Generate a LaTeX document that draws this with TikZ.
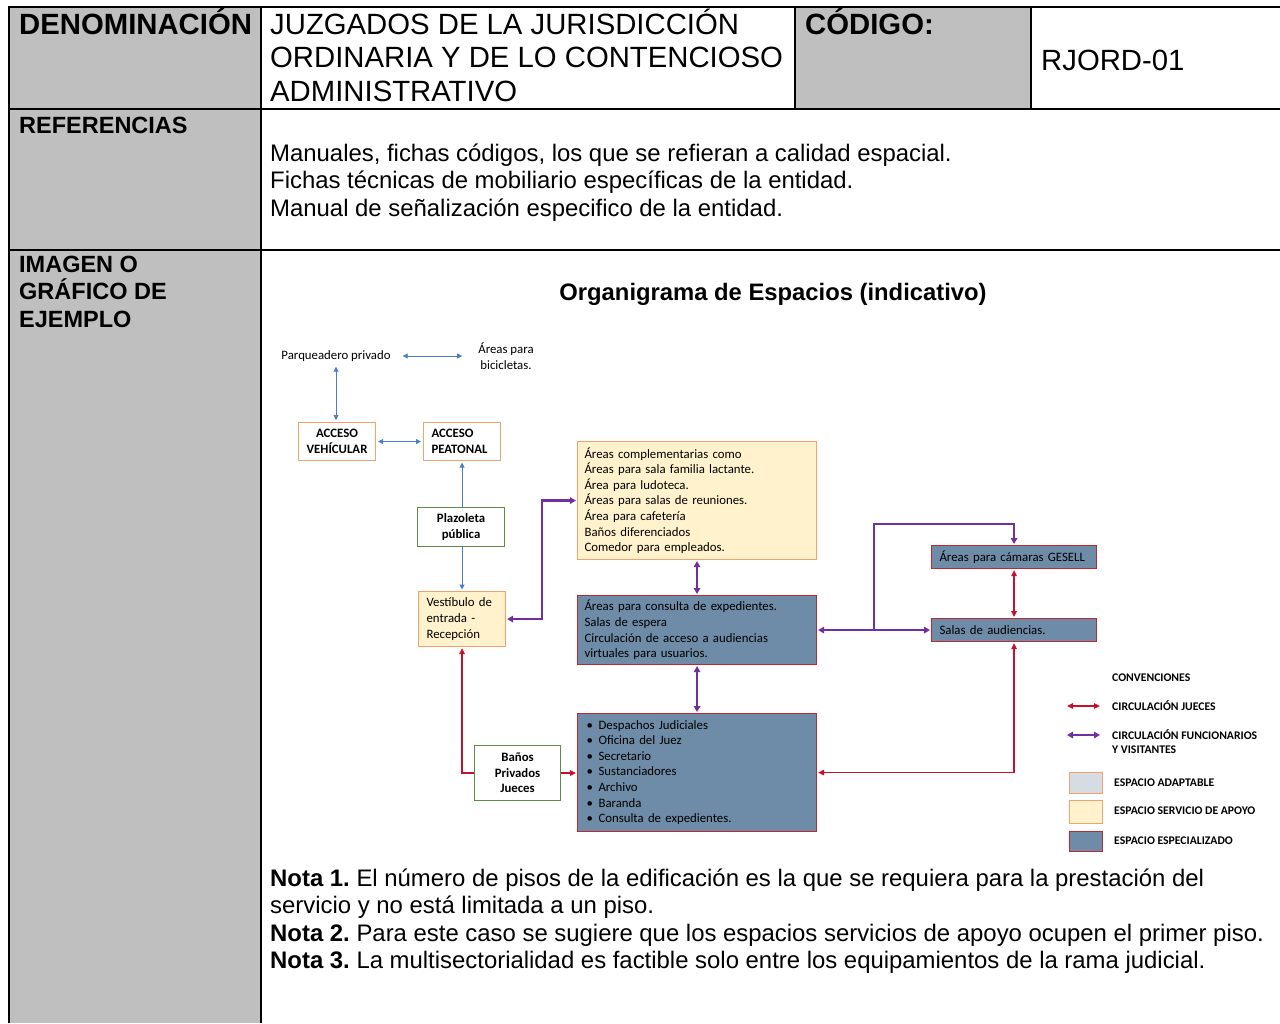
\documentclass[tikz,border=0pt]{standalone}
\usepackage{fontspec}
\setmainfont{Liberation Sans}
\newfontfamily\carl{Carlito}
\usetikzlibrary{arrows.meta,calc}
\frenchspacing
\definecolor{cellgray}{HTML}{BFBFBF}
\definecolor{yel}{HTML}{FFF2CC}
\definecolor{steel}{HTML}{6E8BA7}
\definecolor{adapt}{HTML}{D6DCE4}
\definecolor{orangeb}{HTML}{F2A36B}
\definecolor{redb}{HTML}{C0282D}
\definecolor{greenb}{HTML}{5F8B45}
\definecolor{bluea}{HTML}{4A7DCB}
\definecolor{purpa}{HTML}{7030A0}
\definecolor{reda}{HTML}{C8102E}
\begin{document}
\frenchspacing
\begin{tikzpicture}[x=1pt,y=-1pt,
  tline/.style={line width=2pt, black},
  hdr/.style={font=\fontsize{29.3}{33}\selectfont, inner sep=0pt, anchor=base west},
  hdrb/.style={font=\fontsize{29.3}{33}\selectfont\bfseries, inner sep=0pt, anchor=base west},
  body/.style={font=\fontsize{23.9}{27.5}\selectfont, inner sep=0pt, anchor=base west},
  bodyb/.style={font=\fontsize{23.5}{27.5}\selectfont\bfseries, inner sep=0pt, anchor=base west},
  dfont/.style={font=\carl\fontsize{12.8}{15.6}\selectfont},
  dbold/.style={font=\carl\bfseries\fontsize{12.8}{15.6}\selectfont},
  boxbase/.style={draw, line width=1.1pt, inner ysep=0pt, anchor=north west},
  apoyo/.style={boxbase, draw=orangeb, fill=yel},
  espec/.style={boxbase, draw=redb, fill=steel},
  acceso/.style={boxbase, draw=orangeb, fill=white},
  verde/.style={boxbase, draw=greenb, fill=white},
  legtxt/.style={font=\carl\bfseries\fontsize{11.7}{14}\selectfont, inner sep=0pt, anchor=west, align=left},
  bluearr/.style={draw=bluea, line width=0.9pt, >={Triangle[length=5pt,width=5pt]}},
  redarr/.style={draw=reda, line width=1.5pt, >={Triangle[length=6pt,width=5.5pt]}},
  purarr/.style={draw=purpa, line width=2.5pt, >={Triangle[length=6pt,width=6.5pt]}}
]
\useasboundingbox (0,0) rectangle (1280,1023);
% ---- table ----
\fill[cellgray] (10,8) rectangle (261,1023);
\fill[cellgray] (795,8) rectangle (1031,109);
\draw[tline] (9,1023) -- (9,7) -- (1280,7);
\draw[tline] (261,7) -- (261,1023);
\draw[tline] (795,7) -- (795,109);
\draw[tline] (1031,7) -- (1031,109);
\draw[tline] (9,109) -- (1280,109);
\draw[tline] (9,250) -- (1280,250);
% header texts
\node[hdrb] (den) at (19,34) {DENOMINACIÓN};
\node[hdr] (t1) at (270,34) {JUZGADOS DE LA JURISDICCIÓN};
\node[hdr] (t2) at (270,67.5) {ORDINARIA Y DE LO CONTENCIOSO};
\node[hdr] (t3) at (270,101) {ADMINISTRATIVO};
\node[hdrb] (cod) at (805,34) {CÓDIGO:};
\node[hdr] (codv) at (1041,70.5) {RJORD-01};
\node[bodyb] (ref) at (19,133) {REFERENCIAS};
\node[body] (r1) at (270,161) {Manuales, fichas códigos, los que se refieran a calidad espacial.};
\node[body] (r2) at (270,188.5) {Fichas técnicas de mobiliario específicas de la entidad.};
\node[body] (r3) at (270,216) {Manual de señalización especifico de la entidad.};
\node[bodyb] (im1) at (19,272) {IMAGEN O};
\node[bodyb] (im2) at (19,299.5) {GRÁFICO DE};
\node[bodyb] (im3) at (19,327) {EJEMPLO};
\node[font=\fontsize{23.8}{27}\selectfont\bfseries, inner sep=0pt, anchor=base] (title) at (773,300) {Organigrama de Espacios (indicativo)};
% notes
\node[body] (n1) at (270,886) {\textbf{Nota 1.} El número de pisos de la edificación es la que se requiera para la prestación del};
\node[body] (n1b) at (270,913.5) {servicio y no está limitada a un piso.};
\node[body] (n2) at (270,941) {\textbf{Nota 2.} Para este caso se sugiere que los espacios servicios de apoyo ocupen el primer piso.};
\node[body] (n3) at (270,968.5) {\textbf{Nota 3.} La multisectorialidad es factible solo entre los equipamientos de la rama judicial.};
% ---- diagram ----
\node[dfont, inner sep=3pt] (parq) at (336,356) {Parqueadero privado};
\node[dfont, inner sep=3pt, align=center] (bici) at (506,356) {Áreas para\\bicicletas.};
\node[acceso, dbold, minimum width=77pt, minimum height=38pt, inner xsep=0pt, align=center] (vehic) at (298,422) {ACCESO\\VEHÍCULAR};
\node[acceso, dbold, minimum width=77pt, minimum height=38pt, inner xsep=8pt, text width=61pt, align=left] (peat) at (423,422) {ACCESO\\PEATONAL};
\node[verde, dbold, minimum width=87pt, minimum height=39pt, inner xsep=0pt, align=center] (plaz) at (417,507) {Plazoleta\\pública};
\node[apoyo, dfont, minimum width=87pt, minimum height=55pt, inner xsep=8pt, text width=71pt, align=left] (vest) at (418,591) {Vestíbulo de\\entrada -\\Recepción};
\node[apoyo, dfont, minimum width=239pt, minimum height=118pt, inner xsep=7pt, text width=225pt, align=left] (compl) at (577,441) {Áreas complementarias como\\Áreas para sala familia lactante.\\Área para ludoteca.\\Áreas para salas de reuniones.\\Área para cafetería\\Baños diferenciados\\Comedor para empleados.};
\node[espec, dfont, minimum width=239pt, minimum height=69pt, inner xsep=7pt, text width=225pt, align=left] (cons) at (577,595) {Áreas para consulta de expedientes.\\Salas de espera\\Circulación de acceso a audiencias\\virtuales para usuarios.};
\node[espec, dfont, minimum width=239pt, minimum height=118pt, inner xsep=9pt, text width=221pt, align=left] (desp) at (577,713) {\makebox[12pt][l]{\textbullet}Despachos Judiciales\\\makebox[12pt][l]{\textbullet}Oficina del Juez\\\makebox[12pt][l]{\textbullet}Secretario\\\makebox[12pt][l]{\textbullet}Sustanciadores\\\makebox[12pt][l]{\textbullet}Archivo\\\makebox[12pt][l]{\textbullet}Baranda\\\makebox[12pt][l]{\textbullet}Consulta de expedientes.};
\node[verde, dbold, minimum width=86pt, minimum height=55pt, inner xsep=0pt, align=center] (banos) at (474,745) {Baños\\Privados\\Jueces};
\node[espec, dfont, minimum width=165pt, minimum height=23pt, inner xsep=8pt, text width=149pt, align=left] (gesell) at (931,545) {Áreas para cámaras GESELL};
\node[espec, dfont, minimum width=165pt, minimum height=23pt, inner xsep=8pt, text width=149pt, align=left] (salas) at (931,618) {Salas de audiencias.};
% blue connectors
\draw[bluearr, <->, shorten <=9pt, shorten >=13pt] (parq.east) -- (bici.west |- parq.east);
\draw[bluearr, <->, shorten <=2pt, shorten >=2pt] (parq.south) -- (parq.south |- vehic.north);
\draw[bluearr, <->, shorten <=2pt, shorten >=2pt] (vehic.east) -- (peat.west);
\draw[bluearr, ->, shorten >=1.5pt] (peat.south |- plaz.north) -- (peat.south);
\draw[bluearr, ->, shorten >=1.5pt] (vest.north |- plaz.south) -- (vest.north);
% purple connectors
\draw[purarr, <->, shorten <=1pt, shorten >=1pt] (vest.east) -- ++(36,0) |- (compl.west);
\draw[purarr, <->, shorten <=1pt, shorten >=1pt] (compl.south) -- (compl.south |- cons.north);
\draw[purarr, <->, shorten <=1pt, shorten >=1pt] (cons.south) -- (cons.south |- desp.north);
\draw[purarr, <->, shorten <=1pt, shorten >=1pt] (cons.east) -- (salas.west);
\coordinate (br) at (874,629.5);
\draw[purarr, ->, shorten >=1pt] (br) -- (874,524) -| (gesell.north);
% red connectors
\draw[redarr, ->, shorten >=1pt] (banos.east) -- (banos.east -| desp.west);
\draw[redarr, ->, shorten >=1pt] (banos.west) -| (vest.south);
\draw[redarr, <->, shorten <=1pt, shorten >=1pt] (gesell.south) -- (salas.north);
\draw[redarr, <->, shorten <=1pt, shorten >=1pt] (desp.east) -| (salas.south);
% legend
\node[legtxt] (conv) at (1112,678) {CONVENCIONES};
\coordinate (lj1) at (1067,706);
\coordinate (lj2) at (1100,706);
\draw[redarr, <->] (lj1) -- (lj2);
\node[legtxt] (ljt) at (1112,706) {CIRCULACIÓN JUECES};
\coordinate (lp1) at (1067,735);
\coordinate (lp2) at (1100,735);
\draw[purarr, line width=2pt, <->] (lp1) -- (lp2);
\node[legtxt] (lpt) at (1112,742) {CIRCULACIÓN FUNCIONARIOS\\Y VISITANTES};
\node[boxbase, draw=orangeb, fill=adapt, minimum width=33pt, minimum height=21pt] (sw1) at (1069,772) {};
\node[legtxt] (sw1t) at (1114,783) {ESPACIO ADAPTABLE};
\node[apoyo, minimum width=33pt, minimum height=23pt] (sw2) at (1069,800) {};
\node[legtxt] (sw2t) at (1114,811) {ESPACIO SERVICIO DE APOYO};
\node[espec, minimum width=33pt, minimum height=20pt] (sw3) at (1069,831) {};
\node[legtxt] (sw3t) at (1114,841) {ESPACIO ESPECIALIZADO};
\end{tikzpicture}
\end{document}
